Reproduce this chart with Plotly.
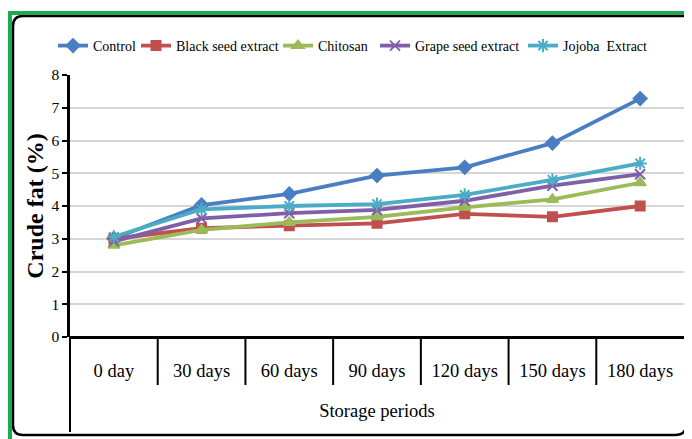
import plotly.graph_objects as go

categories = ["0 day", "30 days", "60 days", "90 days", "120 days", "150 days", "180 days"]
control = [3.01, 4.03, 4.37, 4.93, 5.18, 5.92, 7.28]
black_seed = [3.00, 3.32, 3.40, 3.47, 3.76, 3.67, 4.00]
chitosan = [2.80, 3.27, 3.50, 3.67, 3.96, 4.20, 4.71]
grape_seed = [2.92, 3.62, 3.78, 3.88, 4.16, 4.62, 4.97]
jojoba = [3.06, 3.90, 4.00, 4.06, 4.34, 4.80, 5.30]
y_ticks = [0, 1, 2, 3, 4, 5, 6, 7, 8]

# page has an 8px body margin: figure is drawn at (8, 8)
OFF = 8
W, H = 692 - OFF, 439 - OFF
SL, SR, ST, SB = 70, 684, 75, 337  # plot area in screen pixels


def px(x):
    return (x - SL) / (SR - SL)


def py(y):
    return (SB - y) / (SB - ST)


series = [
    ("Control", control, "#4A7EC2", "diamond", 10, 93),
    ("Black seed extract", black_seed, "#C0504D", "square", 9, 176),
    ("Chitosan", chitosan, "#9BBB59", "triangle-up", 10, 318),
    ("Grape seed extract", grape_seed, "#7F5FA8", "x-thin-open", 10, 415),
    ("Jojoba  Extract", jojoba, "#4BACC6", "asterisk-open", 11, 563),
]

fig = go.Figure()
legends = {}
for k, (name, vals, color, sym, size, tx) in enumerate(series):
    lname = "legend" if k == 0 else f"legend{k + 1}"
    fig.add_trace(go.Scatter(
        x=categories, y=vals, name=name, mode="lines+markers",
        line=dict(color=color, width=3.8),
        marker=dict(symbol=sym, size=size, color=color,
                    line=dict(color=color, width=2)),
        legend=lname,
    ))
    legends[lname] = dict(x=px(tx - 40), y=py(30), xanchor="left", yanchor="top",
                          font=dict(size=14, family="Liberation Serif", color="black"),
                          itemwidth=30, bgcolor="rgba(0,0,0,0)", borderwidth=0)

shapes = []
for i in range(1, len(categories)):
    shapes.append(dict(type="line", xref="x", yref="paper", x0=i - 0.5, x1=i - 0.5,
                       y0=py(337), y1=py(385), line=dict(color="black", width=2)))
shapes.append(dict(type="line", xref="paper", yref="paper", x0=px(70), x1=px(70),
                   y0=py(337), y1=py(432), line=dict(color="black", width=2)))
# black rounded frame
x0, x1, y0, y1, r = px(13), px(686), py(16), py(435), 10
rx, ry = r / (SR - SL), r / (SB - ST)
path = (f"M {x0+rx},{y0} L {px(700)},{y0} M {x1},{y0} L {x1},{y1+ry} Q {x1},{y1} {x1-rx},{y1} "
        f"L {x0+rx},{y1} Q {x0},{y1} {x0},{y1+ry} L {x0},{y0-ry} Q {x0},{y0} {x0+rx},{y0}")
shapes.append(dict(type="path", xref="paper", yref="paper", path=path,
                   line=dict(color="black", width=2.5)))
# green outer frame
shapes.append(dict(type="line", xref="paper", yref="paper", x0=px(8), x1=px(692),
                   y0=py(13), y1=py(13), line=dict(color="#1FA84F", width=4)))
shapes.append(dict(type="line", xref="paper", yref="paper", x0=px(10), x1=px(10),
                   y0=py(13), y1=py(439), line=dict(color="#1FA84F", width=4)))

fig.update_layout(
    width=W, height=H,
    margin=dict(l=SL - OFF, r=W - (SR - OFF), t=ST - OFF, b=H - (SB - OFF)),
    paper_bgcolor="white", plot_bgcolor="white",
    font=dict(family="Liberation Serif", color="black", size=15),
    showlegend=True,
    shapes=shapes,
    xaxis=dict(type="category", showgrid=False, showline=False, zeroline=False,
               ticks="", tickfont=dict(size=18.5), ticklabelstandoff=20,
               title=dict(text="Storage periods", font=dict(size=18.5), standoff=24),
               range=[-0.5, 6.5]),
    yaxis=dict(range=[0, 8], tickvals=y_ticks, showgrid=True, gridcolor="#D6D6D6",
               gridwidth=1.5, showline=True, linecolor="black", linewidth=2.5,
               ticks="outside", ticklen=5, tickwidth=2, tickcolor="black",
               tickfont=dict(size=15.5), zeroline=True, zerolinecolor="black",
               zerolinewidth=3,
               title=dict(text="<b>Crude fat (%)</b>", font=dict(size=24), standoff=2)),
    **legends,
)

fig.write_html("out.html")
